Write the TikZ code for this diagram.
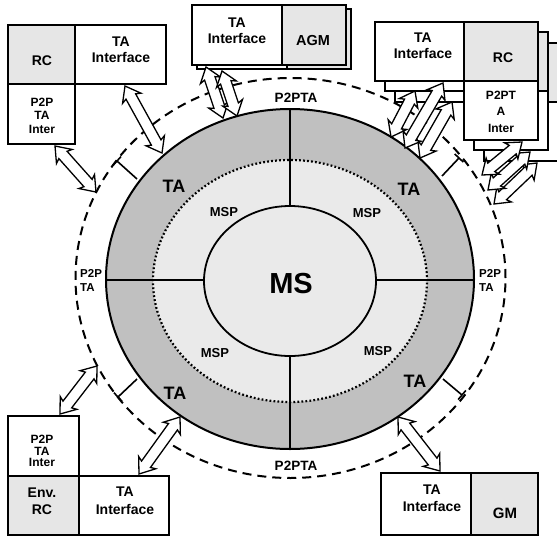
\documentclass[tikz,border=0pt]{standalone}
\usepackage{fontspec}
\setmainfont{Liberation Sans}
\usetikzlibrary{calc}
\definecolor{ringgray}{HTML}{C0C0C0}
\definecolor{lightgray}{HTML}{EAEAEA}
\definecolor{boxgray}{HTML}{E6E6E6}
\newcommand\mybox[6]{\node[boxstyle, fill=#6, minimum width={(#4)-(#2)}, minimum height={(#5)-(#3)}, anchor=north west] (#1) at ({#2},{#3}) {};}
\newcommand\dblarr[2]{%
\draw[fatarrow] (#1)
 -- ($(#1)!14pt!(#2)!10.5pt!90:(#2)$)
 -- ($(#1)!12pt!(#2)!5.5pt!90:(#2)$)
 -- ($(#2)!12pt!(#1)!5.5pt!-90:(#1)$)
 -- ($(#2)!14pt!(#1)!10.5pt!-90:(#1)$)
 -- (#2)
 -- ($(#2)!14pt!(#1)!10.5pt!90:(#1)$)
 -- ($(#2)!12pt!(#1)!5.5pt!90:(#1)$)
 -- ($(#1)!12pt!(#2)!5.5pt!-90:(#2)$)
 -- ($(#1)!14pt!(#2)!10.5pt!-90:(#2)$)
 -- cycle;}
\newcommand\tickmark[2]{%
\draw[tickline] (#1) -- (#2) ($(#2)!6pt!90:(#1)$) -- ($(#2)!6pt!-90:(#1)$);}
\begin{document}
\begin{tikzpicture}[x=1pt,y=-1pt,
  boxstyle/.style={draw, line width=1.4pt, inner sep=0pt, outer sep=0pt},
  fatarrow/.style={draw, fill=white, line width=1.3pt, line join=miter},
  tickline/.style={line width=1.6pt},
  dashedring/.style={line width=2pt, dash pattern=on 9pt off 6pt},
  txt/.style={inner sep=0pt, align=center, font=\bfseries\fontsize{14}{16}\selectfont},
  ptxt/.style={inner sep=0pt, align=center, font=\bfseries\fontsize{12}{13.5}\selectfont},
  talbl/.style={inner sep=0pt, font=\bfseries\fontsize{18}{20}\selectfont},
  msplbl/.style={inner sep=0pt, font=\bfseries\fontsize{13}{15}\selectfont},
  ringlbl/.style={inner sep=0pt, font=\bfseries\fontsize{13.5}{15}\selectfont},
  sidelbl/.style={inner sep=0pt, align=left, anchor=west, font=\bfseries\fontsize{11.5}{14}\selectfont}]
\useasboundingbox (0,0) rectangle (557,536);

% rings
\draw[dashedring] (290.5,278) ellipse [x radius=215pt, y radius=200pt];
\fill[ringgray] (290,279) ellipse [x radius=184pt, y radius=170pt];
\fill[lightgray] (290,281) ellipse [x radius=137pt, y radius=121pt];
\draw[line width=2.2pt, dash pattern=on 1.8pt off 2.2pt] (290,281) ellipse [x radius=137pt, y radius=121pt];
\draw[fill=lightgray, line width=1.8pt] (290,281) ellipse [x radius=86pt, y radius=75pt];
\draw[line width=1.6pt] (290,109) -- (290,206) (290,356) -- (290,449)
  (106,280) -- (204,280) (376,280) -- (474,280);
\draw[line width=2pt] (290,279) ellipse [x radius=184pt, y radius=170pt];

% tick marks
\coordinate (tk1s) at (137,179); \coordinate (tk1e) at (117,161);
\coordinate (tk2s) at (442,176); \coordinate (tk2e) at (459,158);
\coordinate (tk3s) at (137,379); \coordinate (tk3e) at (118,397);
\coordinate (tk4s) at (443,379); \coordinate (tk4e) at (462,395);
\tickmark{tk1s}{tk1e}
\tickmark{tk2s}{tk2e}
\tickmark{tk3s}{tk3e}
\tickmark{tk4s}{tk4e}

% top-left group
\mybox{tlrc}{8}{25}{75}{84}{boxgray}
\mybox{tlta}{75}{25}{166}{84}{white}
\mybox{tlp}{8}{84}{75}{144}{white}

% top-middle group
\mybox{tmtab}{197}{9}{287}{69}{white}
\mybox{tmagmb}{287}{9}{351}{69}{boxgray}
\mybox{tmta}{192}{5}{282}{65}{white}
\mybox{tmagm}{282}{5}{346}{65}{boxgray}

% top-right group (stacked)
\foreach \dx/\dy/\s in {20/21/c, 10/10/b, 0/0/a}{
  \mybox{trta\s}{375+\dx}{22+\dy}{464+\dx}{81+\dy}{white}
  \mybox{trrc\s}{464+\dx}{22+\dy}{538+\dx}{81+\dy}{boxgray}
  \mybox{trp\s}{464+\dx}{81+\dy}{538+\dx}{140+\dy}{white}
}

% bottom-left group
\mybox{blp}{8}{416}{79}{476}{white}
\mybox{blrc}{8}{476}{79}{535}{boxgray}
\mybox{blta}{79}{476}{169}{535}{white}

% bottom-right group
\mybox{brta}{381}{473}{471}{535}{white}
\mybox{brgm}{471}{473}{538}{535}{boxgray}

% arrow end points
\coordinate (a1s) at (125,86);  \coordinate (a1e) at (162,153);
\coordinate (a2s) at (55,146);  \coordinate (a2e) at (96,192);
\coordinate (a3s) at (206,67);  \coordinate (a3e) at (223,118);
\coordinate (a4s) at (222,71);  \coordinate (a4e) at (237,116);
\coordinate (a5s) at (452,102); \coordinate (a5e) at (420,158);
\coordinate (a6s) at (415,91);  \coordinate (a6e) at (391,137);
\coordinate (a7s) at (443,83);  \coordinate (a7e) at (405,148);
\coordinate (a8s) at (537,163); \coordinate (a8e) at (494,204);
\coordinate (a9s) at (530,152); \coordinate (a9e) at (488,190);
\coordinate (a10s) at (522,142); \coordinate (a10e) at (482,175);
\coordinate (a11s) at (60,414); \coordinate (a11e) at (97,366);
\coordinate (a12s) at (139,474); \coordinate (a12e) at (180,417);
\coordinate (a13s) at (440,471); \coordinate (a13e) at (398,417);
\foreach \i in {1,...,13}{\dblarr{a\i s}{a\i e}}

% box texts
\node[txt] (t-tlrc) at (42,61) {RC};
\node[txt] (t-tlta) at (121,50) {TA\\Interface};
\node[ptxt] (t-tlp) at (42,115.5) {P2P\\TA\\Inter};
\node[txt] (t-tmta) at (237,31) {TA\\Interface};
\node[txt, font=\bfseries\fontsize{14.5}{16}\selectfont] (t-tmagm) at (313,41) {AGM};
\node[txt] (t-trta) at (423,45.5) {TA\\Interface};
\node[txt] (t-trrc) at (503,58) {RC};
\node[ptxt, font=\bfseries\fontsize{12}{16.5}\selectfont] (t-trp) at (501,111.5) {P2PT\\A\\Inter};
\node[ptxt, font=\bfseries\fontsize{12}{11.5}\selectfont] (t-blp) at (42,451) {P2P\\TA\\Inter};
\node[txt, font=\bfseries\fontsize{14}{17}\selectfont] (t-blrc) at (42,501.5) {Env.\\RC};
\node[txt, font=\bfseries\fontsize{14}{18}\selectfont] (t-blta) at (125,501) {TA\\Interface};
\node[txt, font=\bfseries\fontsize{14}{17}\selectfont] (t-brta) at (432,498.5) {TA\\Interface};
\node[txt, font=\bfseries\fontsize{15}{17}\selectfont] (t-brgm) at (505,513) {GM};

% ring texts
\node[talbl] (ta1) at (174,186) {TA};
\node[talbl] (ta2) at (409,189) {TA};
\node[talbl] (ta3) at (175,393) {TA};
\node[talbl] (ta4) at (415,381) {TA};
\node[msplbl] (msp1) at (224,212) {MSP};
\node[msplbl] (msp2) at (367,213) {MSP};
\node[msplbl] (msp3) at (215,353) {MSP};
\node[msplbl] (msp4) at (378,351) {MSP};
\node[inner sep=0pt, font=\bfseries\fontsize{29}{31}\selectfont] (ms) at (291,284) {MS};
\node[ringlbl] (p2pta-top) at (296,98) {P2PTA};
\node[ringlbl] (p2pta-bot) at (296,465.5) {P2PTA};
\node[sidelbl] (p2p-left) at (80,280) {P2P\\TA};
\node[sidelbl] (p2p-right) at (479,280) {P2P\\TA};
\end{tikzpicture}
\end{document}
